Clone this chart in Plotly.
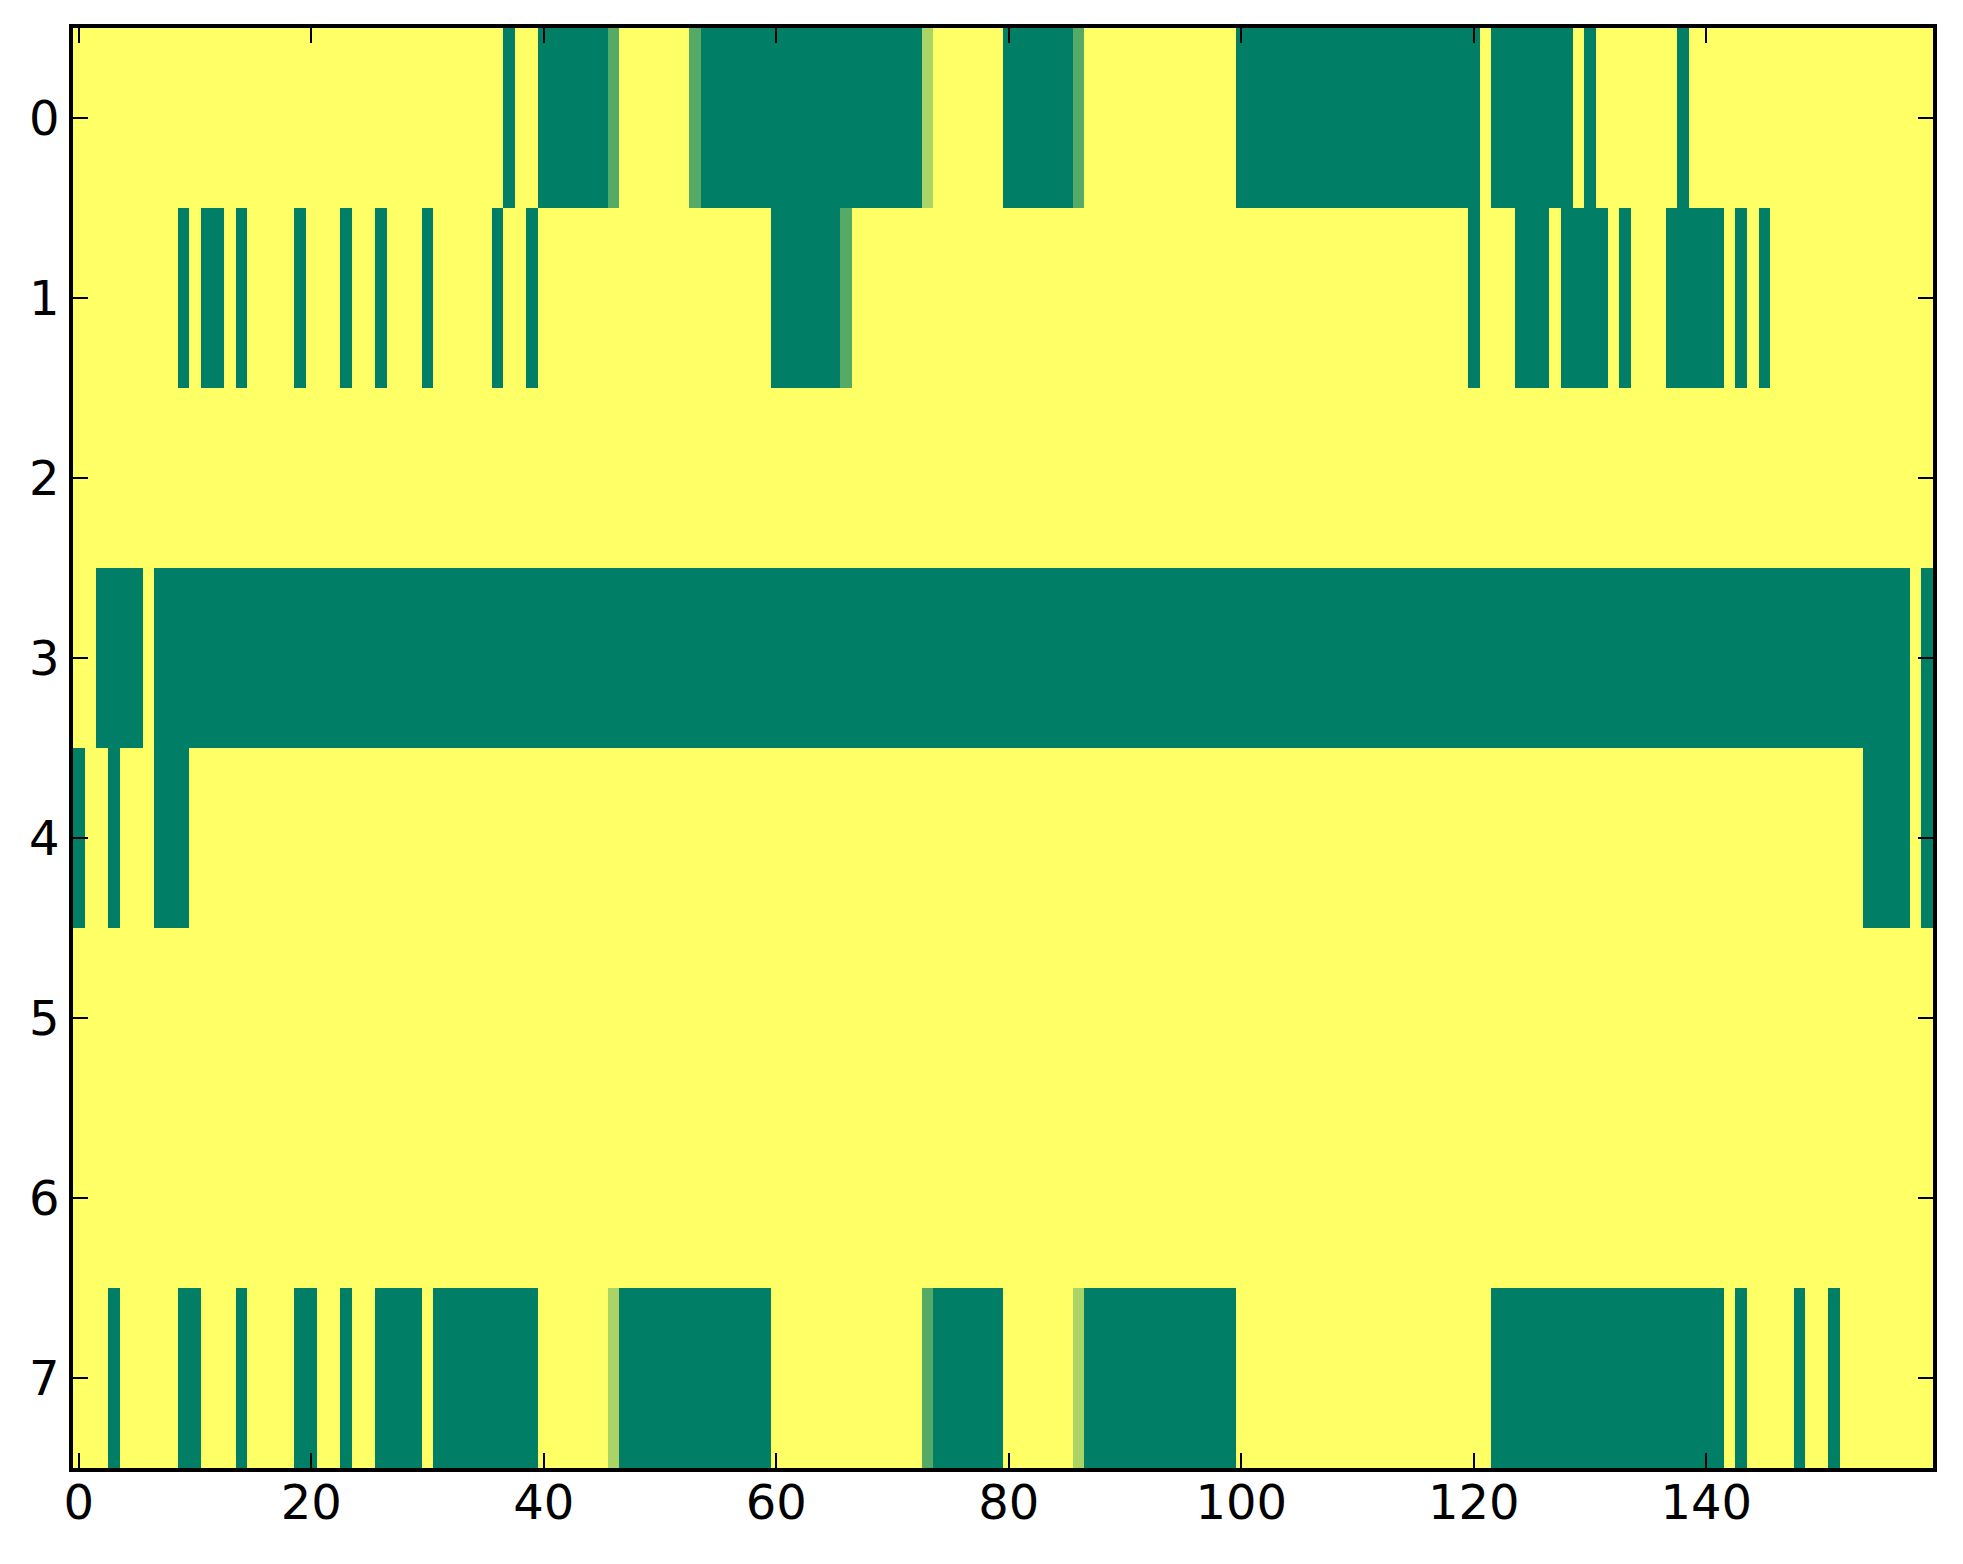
import numpy as np
import plotly.graph_objects as go

n_rows = 8
n_cols = 160

# runs of (first col, last col, value); everything else is 1.0
row0 = [(37, 37, 0), (40, 45, 0), (46, 46, 1/3), (53, 53, 1/3), (54, 72, 0),
        (73, 73, 2/3), (80, 85, 0), (86, 86, 1/3), (100, 120, 0), (122, 128, 0),
        (130, 130, 0), (138, 138, 0)]
row1 = [(9, 9, 0), (11, 12, 0), (14, 14, 0), (19, 19, 0), (23, 23, 0), (26, 26, 0),
        (30, 30, 0), (36, 36, 0), (39, 39, 0), (60, 65, 0), (66, 66, 1/3),
        (120, 120, 0), (124, 126, 0), (128, 131, 0), (133, 133, 0), (137, 141, 0),
        (143, 143, 0), (145, 145, 0)]
row2 = []
row3 = [(2, 5, 0), (7, 157, 0), (159, 159, 0)]
row4 = [(0, 0, 0), (3, 3, 0), (7, 9, 0), (154, 157, 0), (159, 159, 0)]
row5 = []
row6 = []
row7 = [(3, 3, 0), (9, 10, 0), (14, 14, 0), (19, 20, 0), (23, 23, 0), (26, 29, 0),
        (31, 39, 0), (46, 46, 2/3), (47, 59, 0), (73, 73, 1/3), (74, 79, 0),
        (86, 86, 2/3), (87, 99, 0), (122, 141, 0), (143, 143, 0), (148, 148, 0),
        (151, 151, 0)]
rows = [row0, row1, row2, row3, row4, row5, row6, row7]

x_ticks = [0, 20, 40, 60, 80, 100, 120, 140]
y_ticks = list(range(n_rows))

z = np.ones((n_rows, n_cols))
for r, runs in enumerate(rows):
    for a, b, v in runs:
        z[r, a:b + 1] = v

# matplotlib "summer"
summer = [[0.0, 'rgb(0,127,102)'], [1.0, 'rgb(255,255,102)']]

fig = go.Figure(go.Heatmap(
    z=z,
    x=np.arange(n_cols),
    y=np.arange(n_rows),
    colorscale=summer,
    zmin=0, zmax=1,
    showscale=False,
))

axis_style = dict(
    showline=True, linecolor='black', linewidth=3.5, mirror='allticks',
    ticks='inside', ticklen=15, tickwidth=2, tickcolor='black',
    showgrid=False, zeroline=False,
    tickfont=dict(family='DejaVu Sans', size=48, color='black'),
)
fig.update_xaxes(range=[-0.5, n_cols - 0.5], tickvals=x_ticks,
                 ticklabelstandoff=-10, **axis_style)
fig.update_yaxes(range=[n_rows - 0.5, -0.5], tickvals=y_ticks, **axis_style)

# page body adds ~8px offset, so margins are trimmed to compensate
fig.update_layout(
    width=1955, height=1556,
    margin=dict(l=65, r=30, t=20, b=96),
    paper_bgcolor='white', plot_bgcolor='white',
)

fig.write_html("out.html")
